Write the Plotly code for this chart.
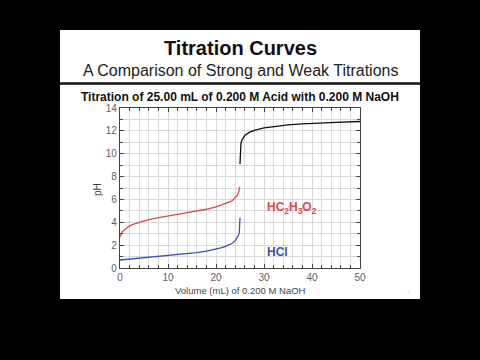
import plotly.graph_objects as go

# HCl titration (strong acid)
hcl_vol = [0, 2, 4, 6, 8, 10, 12, 14, 16, 18, 20, 21, 22, 23, 23.5, 24, 24.4, 24.7, 24.85, 24.93, 24.97, 25.0]
hcl_ph = [0.70, 0.78, 0.85, 0.93, 1.00, 1.07, 1.15, 1.24, 1.35, 1.48, 1.65, 1.76, 1.89, 2.07, 2.19, 2.39, 2.60, 2.86, 3.10, 3.45, 4.0, 4.4]

# Acetic acid titration (weak acid)
hac_vol = [0, 0.2, 0.5, 1, 1.5, 2, 3, 4, 5, 6, 8, 10, 12, 14, 16, 18, 20, 21, 22, 23, 23.5, 24, 24.4, 24.7, 24.85, 24.92]
hac_ph = [2.72, 2.95, 3.16, 3.36, 3.52, 3.68, 3.86, 4.00, 4.14, 4.24, 4.40, 4.57, 4.70, 4.84, 4.98, 5.14, 5.35, 5.48, 5.61, 5.80, 5.93, 6.12, 6.33, 6.58, 6.88, 7.1]

# Excess base region (shared)
base_vol = [25.0, 25.02, 25.05, 25.1, 25.2, 25.4, 25.7, 26, 27, 28, 30, 32, 35, 38, 40, 45, 50]
base_ph = [9.1, 9.9, 10.3, 10.6, 10.9, 11.2, 11.45, 11.59, 11.89, 12.05, 12.26, 12.38, 12.52, 12.61, 12.66, 12.75, 12.82]

x_ticks = [0, 10, 20, 30, 40, 50]
y_ticks = [0, 2, 4, 6, 8, 10, 12, 14]

FONT = "Liberation Sans, Arial, sans-serif"

fig = go.Figure()
fig.add_trace(go.Scatter(x=hcl_vol, y=hcl_ph, mode="lines",
                         line=dict(color="#3d4fb5", width=1.3), name="HCl"))
fig.add_trace(go.Scatter(x=hac_vol, y=hac_ph, mode="lines",
                         line=dict(color="#d8484c", width=1.3), name="HC2H3O2"))
fig.add_trace(go.Scatter(x=base_vol, y=base_ph, mode="lines",
                         line=dict(color="#111111", width=1.3), name="base"))

axis_common = dict(
    showline=True, linecolor="#444444", linewidth=1.2, mirror="allticks",
    ticks="inside", ticklen=4, tickcolor="#444444",
    showgrid=True, gridcolor="#d8d8d8", gridwidth=1, zeroline=False,
    tickfont=dict(family=FONT, size=10, color="#606060"),
)

fig.update_xaxes(range=[0, 50], tickvals=x_ticks,
                 minor=dict(dtick=2, ticks="inside", ticklen=2.5, tickcolor="#444444",
                            showgrid=True, gridcolor="#d8d8d8"),
                 **axis_common)
fig.update_yaxes(range=[0, 14], tickvals=y_ticks,
                 minor=dict(dtick=1, ticks="inside", ticklen=2.5, tickcolor="#444444",
                            showgrid=True, gridcolor="#d8d8d8"),
                 **axis_common)

def px_x(p):
    return (p - 120) / 240.0

def px_y(p):
    return (268 - p) / 160.0

shapes = [
    dict(type="rect", xref="paper", yref="paper", x0=px_x(60), x1=px_x(420),
         y0=px_y(299), y1=px_y(30), fillcolor="white", line=dict(width=0), layer="below"),
    dict(type="line", xref="paper", yref="paper", x0=px_x(60), x1=px_x(420),
         y0=px_y(83.5), y1=px_y(83.5), line=dict(color="#111111", width=2.5)),
]

def ann(text, x, y, size, color, xref="paper", yref="paper", xanchor="center", **kw):
    return dict(text=text, x=x, y=y, xref=xref, yref=yref, xanchor=xanchor, yanchor="middle",
                showarrow=False, font=dict(family=FONT, size=size, color=color), **kw)

annotations = [
    ann("<b>Titration Curves</b>", 0.5, px_y(48), 20, "#111111"),
    ann("A Comparison of Strong and Weak Titrations", 0.5, px_y(70), 16, "#222222"),
    ann("<b>Titration of 25.00 mL of 0.200 M Acid with 0.200 M NaOH</b>", 0.5, px_y(97), 12, "#111111"),
    ann("pH", px_x(97), px_y(190), 10, "#444444", textangle=-90),
    ann("Volume (mL) of 0.200 M NaOH", 0.5, px_y(290), 9.5, "#444444"),
    ann("<b>HC<sub>2</sub>H<sub>3</sub>O<sub>2</sub></b>", 30.2, 5.25, 12, "#d8484c",
        xref="x", yref="y", xanchor="left"),
    ann("<b>HCl</b>", 30.2, 1.4, 12, "#3d4fb5", xref="x", yref="y", xanchor="left"),
    ann("1", px_x(409), px_y(291), 6, "#dddddd"),
]

fig.update_layout(
    width=480, height=360,
    margin=dict(l=120, r=120, t=108, b=92),
    paper_bgcolor="black", plot_bgcolor="white",
    showlegend=False,
    shapes=shapes, annotations=annotations,
    font=dict(family=FONT),
)

fig.write_html("out.html", config={"displayModeBar": False},
               post_script="document.body.style.margin='0';document.body.style.padding='0';document.body.style.overflow='hidden';")
